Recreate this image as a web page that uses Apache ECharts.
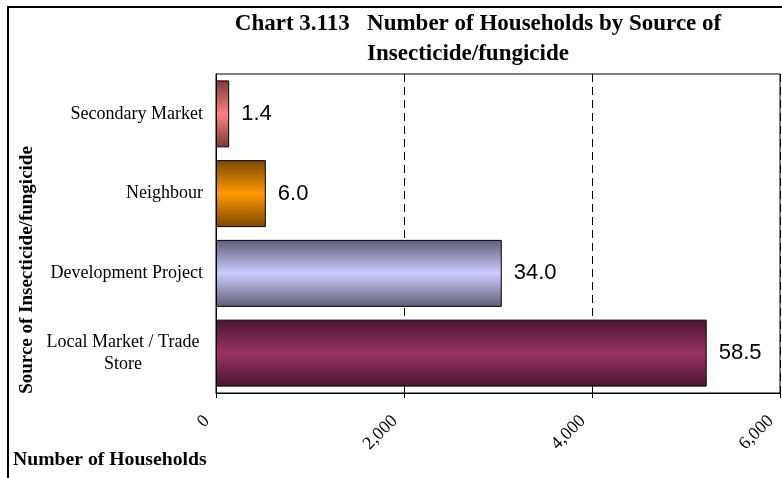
<!DOCTYPE html>
<html>
<head>
<meta charset="utf-8">
<script src="https://cdn.jsdelivr.net/npm/echarts@6/dist/echarts.min.js"></script>
<style>
html,body{margin:0;padding:0;background:#fff;}
#chart{width:782px;height:478px;}
</style>
</head>
<body>
<div id="chart"></div>
<script>
// ---- data ----
const categories = ['Secondary Market', 'Neighbour', 'Development Project', 'Local Market / Trade Store'];
const households = [140, 530, 3040, 5220];
const percentLabels = ['1.4', '6.0', '34.0', '58.5'];
const xTickValues = [0, 2000, 4000, 6000];
const titleLine1 = 'Chart 3.113   Number of Households by Source of';
const titleLine2 = 'Insecticide/fungicide';
const xAxisTitle = 'Number of Households';
const yAxisTitle = 'Source of Insecticide/fungicide';

// ---- styles ----
const barColors = [
  ['#7a3a3a', '#ff8080'],
  ['#7a4800', '#ff9900'],
  ['#5e5e78', '#ccccff'],
  ['#4a1630', '#993366']
];
const serif = '"Liberation Serif", "Times New Roman", serif';
const sans = '"Liberation Sans", Arial, sans-serif';

function grad(i) {
  const c = barColors[i];
  return new echarts.graphic.LinearGradient(0, 0, 0, 1, [
    {offset: 0, color: c[0]},
    {offset: 0.5, color: c[1]},
    {offset: 1, color: c[0]}
  ]);
}

const chart = echarts.init(document.getElementById('chart'), null, {renderer: 'canvas'});

const option = {
  animation: false,
  backgroundColor: '#fff',
  grid: {
    left: 216, right: 2, top: 74, bottom: 85,
    show: true, borderColor: '#000', borderWidth: 1, backgroundColor: 'transparent'
  },
  xAxis: {
    type: 'value',
    min: xTickValues[0],
    max: xTickValues[xTickValues.length - 1],
    interval: xTickValues[1] - xTickValues[0],
    axisLine: {show: true, lineStyle: {color: '#000', width: 1}},
    axisTick: {show: true, length: 5, lineStyle: {color: '#000'}},
    splitLine: {show: true, lineStyle: {color: '#000', type: [8, 5], width: 1}},
    axisLabel: {
      rotate: 45,
      margin: 16,
      padding: [0, 13, 0, 0],
      color: '#000',
      fontFamily: serif,
      fontSize: 18,
      showMinLabel: true,
      showMaxLabel: true,
      formatter: v => v.toLocaleString('en-US')
    }
  },
  yAxis: {
    type: 'category',
    data: categories,
    inverse: true,
    axisLine: {show: true, lineStyle: {color: '#000', width: 1}},
    axisTick: {show: false},
    splitLine: {show: false},
    axisLabel: {
      margin: 13,
      color: '#000',
      fontFamily: serif,
      fontSize: 18,
      formatter: function (v) {
        if (v === 'Local Market / Trade Store') {
          return '{c|Local Market / Trade}\n{c|Store}';
        }
        return v;
      },
      rich: {
        c: {width: 160, align: 'center', fontFamily: serif, fontSize: 18, lineHeight: 22, color: '#000'}
      }
    }
  },
  series: [{
    type: 'bar',
    data: households.map((v, i) => ({
      value: v,
      itemStyle: {color: grad(i), borderColor: '#000', borderWidth: 1}
    })),
    barCategoryGap: '16%',
    label: {
      show: true,
      position: 'right',
      distance: 12,
      color: '#000',
      fontFamily: sans,
      fontSize: 22,
      formatter: p => percentLabels[p.dataIndex]
    }
  }],
  graphic: [
    {
      type: 'rect', silent: true,
      shape: {x: 8, y: 7, width: 900, height: 900},
      style: {fill: 'none', stroke: '#000', lineWidth: 2}
    },
    {
      type: 'text', x: 478, y: 24.5,
      style: {text: titleLine1, font: 'bold 23px ' + serif, fill: '#000', textAlign: 'center', textVerticalAlign: 'middle'}
    },
    {
      type: 'text', x: 468, y: 54.5,
      style: {text: titleLine2, font: 'bold 23px ' + serif, fill: '#000', textAlign: 'center', textVerticalAlign: 'middle'}
    },
    {
      type: 'text', x: 13, y: 460,
      style: {text: xAxisTitle, font: 'bold 19.7px ' + serif, fill: '#000', textAlign: 'left', textVerticalAlign: 'middle'}
    },
    {
      type: 'text', x: 27, y: 270, rotation: Math.PI / 2,
      style: {text: yAxisTitle, font: 'bold 19px ' + serif, fill: '#000', textAlign: 'center', textVerticalAlign: 'middle'}
    }
  ]
};

chart.setOption(option);
</script>
</body>
</html>
